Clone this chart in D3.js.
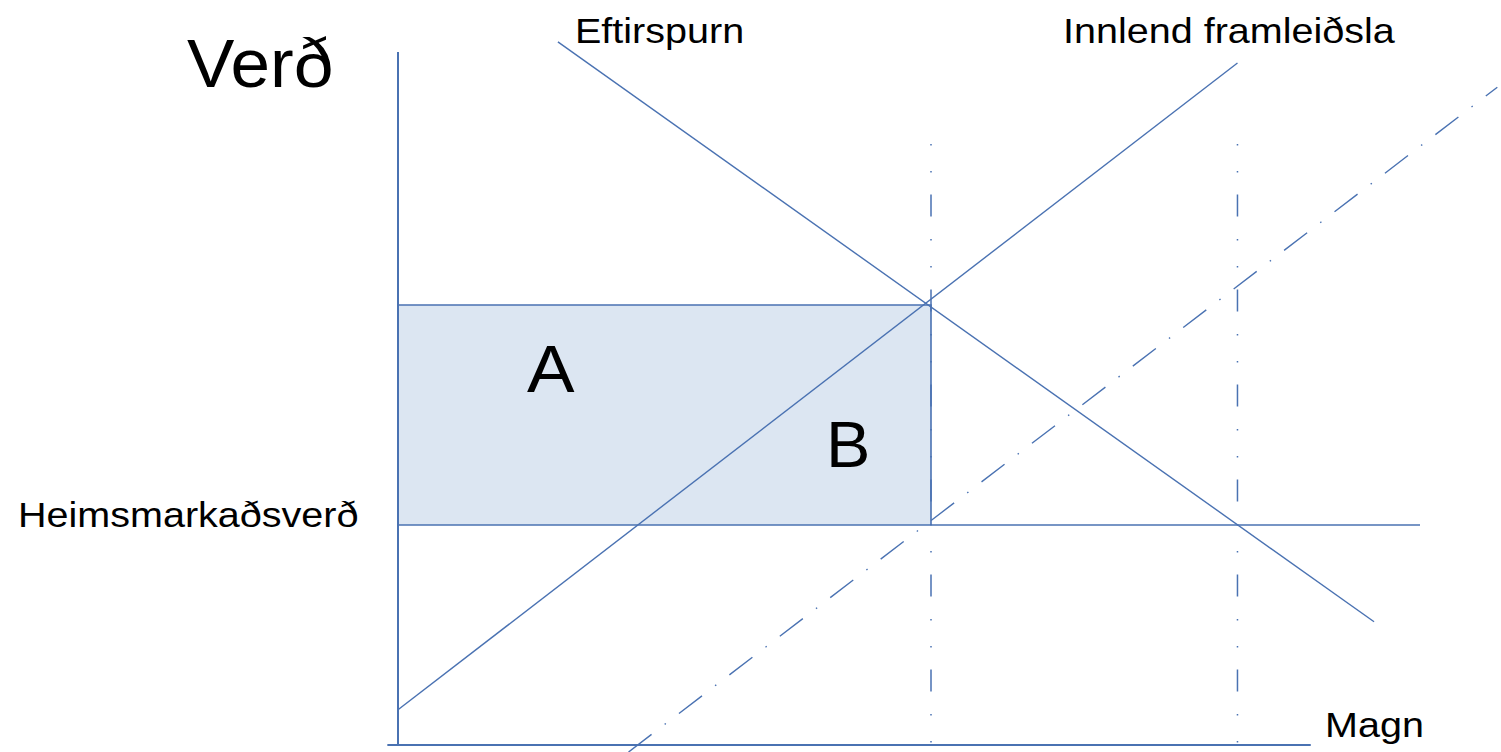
<!DOCTYPE html>
<html>
<head>
<meta charset="utf-8">
<script src="https://cdn.jsdelivr.net/npm/d3@7"></script>
<style>
  body { margin: 0; background: #fff; }
  text { font-family: "Liberation Sans", Arial, sans-serif; fill: #000; }
</style>
</head>
<body>
<svg id="chart" width="1501" height="752"></svg>
<script>
/* Tollar / heimsmarkaðsverð - framboð og eftirspurn */

// quantity (x) and price (y) in model units
const supplyLine = [[0, 0.8], [6.3, 15.5]];            // Innlend framleiðsla
const demandLine = [[1.2, 15.98], [7.325, 2.8]];       // Eftirspurn
const shiftedSupply = [[1.73, -0.16], [8.25, 14.95]];  // framboð með innflutningi
const worldPrice = 5;
const worldPriceEnd = 7.67;
const domesticPrice = 10;
const qDomestic = 4;
const qImports = 6.3;
const guideTop = 13.66;
const xAxisExtent = [-0.08, 6.85];
const yAxisTop = 15.75;

const lineColor = "#4a72b2";
const fillColor = "#dce6f2";

var svg = d3.select("#chart");

let x = d3.scaleLinear().domain([0, 1]).range([398, 531.25]);
let y = d3.scaleLinear().domain([0, 1]).range([745, 701]);

let line = d3.line()
    .x(d => x(d[0]))
    .y(d => y(d[1]));

// shaded area A + B
svg.append("rect")
    .attr("x", x(0))
    .attr("y", y(domesticPrice))
    .attr("width", x(qDomestic) - x(0))
    .attr("height", y(worldPrice) - y(domesticPrice))
    .attr("fill", fillColor);

// rect top and right edge
svg.append("path")
    .attr("d", line([[0, domesticPrice], [qDomestic, domesticPrice], [qDomestic, worldPrice]]))
    .attr("fill", "none")
    .attr("stroke", lineColor)
    .attr("stroke-width", 1.6);

// world price
svg.append("path")
    .attr("d", line([[0, worldPrice], [worldPriceEnd, worldPrice]]))
    .attr("stroke", lineColor)
    .attr("stroke-width", 1.6);

// vertical guides (dash dot dot)
[qDomestic, qImports].forEach(function(q){
    svg.append("path")
        .attr("d", line([[q, guideTop], [q, 0]]))
        .attr("fill", "none")
        .attr("stroke", lineColor)
        .attr("stroke-width", 1.5)
        .attr("stroke-dasharray", "1.5 25.5 1.5 22 22 22.5");
});

// shifted supply, dash dot
svg.append("path")
    .attr("d", line(shiftedSupply))
    .attr("fill", "none")
    .attr("stroke", lineColor)
    .attr("stroke-width", 1.4)
    .attr("stroke-dasharray", "29 16.5 1.5 16.5");

// supply and demand
[supplyLine, demandLine].forEach(function(pts){
    svg.append("path")
        .attr("d", line(pts))
        .attr("fill", "none")
        .attr("stroke", lineColor)
        .attr("stroke-width", 1.4);
});

// axes
svg.append("path")
    .attr("d", line([[0, 0], [0, yAxisTop]]))
    .attr("stroke", lineColor)
    .attr("stroke-width", 2);
svg.append("path")
    .attr("d", line([[xAxisExtent[0], 0], [xAxisExtent[1], 0]]))
    .attr("stroke", lineColor)
    .attr("stroke-width", 2);

// labels
svg.append("text")
    .attr("transform", "translate(187,87) scale(1.03,1)")
    .style("font-size", "69px")
    .text("Verð");

let small = [
    {t: "Eftirspurn", x: 575, y: 43},
    {t: "Innlend framleiðsla", x: 1063, y: 43},
    {t: "Heimsmarkaðsverð", x: 18, y: 527},
    {t: "Magn", x: 1325, y: 737}
];
svg.selectAll("text.small")
    .data(small)
    .enter().append("text")
    .attr("class", "small")
    .attr("transform", d => "translate(" + d.x + "," + d.y + ") scale(1.13,1)")
    .style("font-size", "35px")
    .text(d => d.t);

svg.append("text")
    .attr("transform", "translate(527,392) scale(1.08,1)")
    .style("font-size", "66px")
    .text("A");
svg.append("text")
    .attr("transform", "translate(826,467) scale(1.04,1)")
    .style("font-size", "64px")
    .text("B");
</script>
</body>
</html>
